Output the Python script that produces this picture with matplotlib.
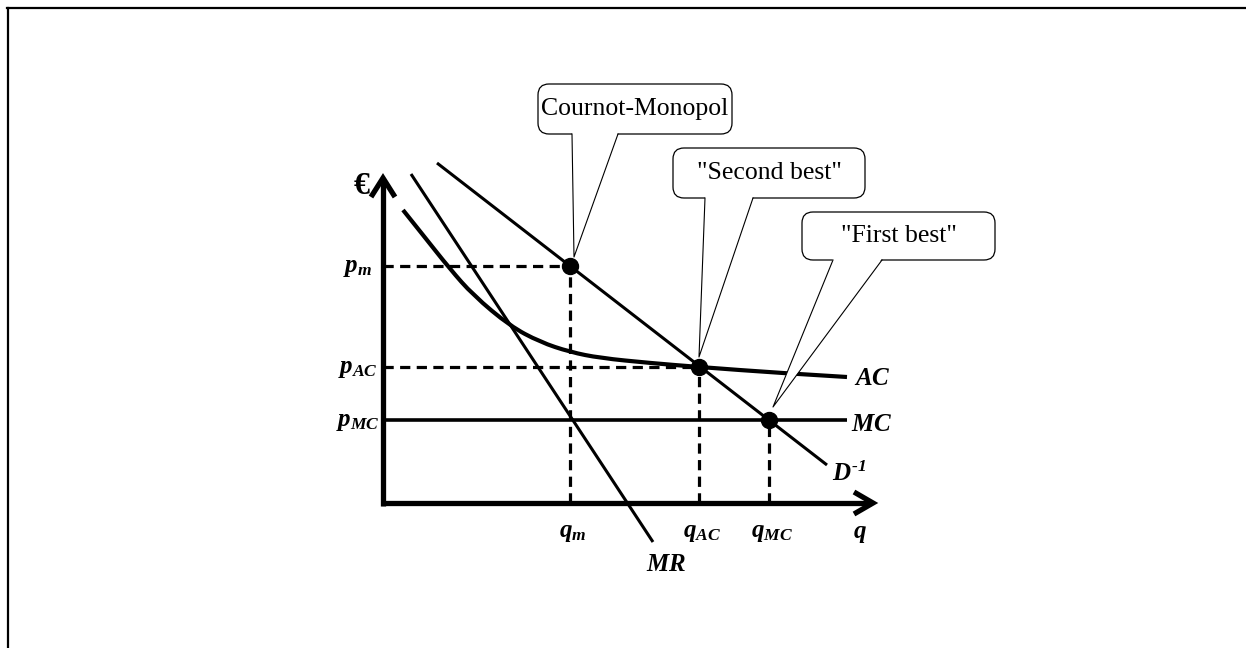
import matplotlib
matplotlib.use('Agg')
import matplotlib.pyplot as plt
from matplotlib.patches import FancyBboxPatch, Polygon, PathPatch
from matplotlib.path import Path
from matplotlib.lines import Line2D

plt.rcParams['mathtext.fontset'] = 'custom'
plt.rcParams['mathtext.rm'] = 'Liberation Serif:bold:italic'
plt.rcParams['mathtext.it'] = 'Liberation Serif:bold:italic'
plt.rcParams['mathtext.bf'] = 'Liberation Serif:bold:italic'

# Nachfrage (inverse Nachfragefunktion) und Grenzerlös, Endpunkte
demand_q = [1.08, 8.88]
demand_p = [6.80, 0.76]
mr_q = [0.56, 5.40]
mr_p = [6.58, -0.78]

ac_q = [0.40, 0.80, 1.34, 1.80, 2.54, 3.14, 3.74, 4.34, 5.34, 6.32, 7.94, 9.28]
ac_p = [5.86, 5.36, 4.68, 4.16, 3.54, 3.22, 3.02, 2.90, 2.80, 2.72, 2.60, 2.52]

# Grenzkosten
mc_level = 1.66
mc_end = 9.28

# Gleichgewichte: Cournot, Second best, First best
eq_q = [3.74, 6.32, 7.72]
eq_p = [4.74, 2.72, 1.66]
q_labels = [r'$q_m$', r'$q_{AC}$', r'$q_{MC}$']
p_labels = [r'$p_m$', r'$p_{AC}$', r'$p_{MC}$']

# Sprechblasen: Text, Box (x0, x1, y0, y1), Basis der Spitze, Spitze
callout_texts = ['Cournot-Monopol', '"Second best"', '"First best"']
callout_boxes = [(3.10, 6.98, 7.38, 8.38), (5.80, 9.64, 6.10, 7.10), (8.38, 12.24, 4.86, 5.82)]
callout_bases = [(3.78, 4.70), (6.44, 7.40), (9.00, 9.98)]
callout_tips = [(3.82, 4.92), (6.32, 2.92), (7.80, 1.92)]

q_max = 9.80
p_max = 6.50

fig = plt.figure(figsize=(12.46, 6.48), dpi=100)
ax = fig.add_axes([0, 0, 1, 1])
ax.set_xlim(-7.66, 17.26)
ax.set_ylim(-2.90, 10.06)
ax.axis('off')

# Rahmen oben und links
fig.add_artist(Line2D([7.5 / 1246, 7.5 / 1246], [0, 1 - 7.5 / 648], color='black', lw=1.6,
                      transform=fig.transFigure))
fig.add_artist(Line2D([7.0 / 1246, 1], [1 - 7.5 / 648, 1 - 7.5 / 648], color='black', lw=1.6,
                      transform=fig.transFigure))

# Achsen mit Pfeilen
ax.plot([0, 0], [-0.05, p_max - 0.05], color='black', lw=3.8, solid_capstyle='butt', zorder=3)
ax.plot([-0.05, q_max - 0.05], [0, 0], color='black', lw=3.8, solid_capstyle='butt', zorder=3)
ax.plot([-0.24, 0, 0.24], [p_max - 0.38, p_max, p_max - 0.38], color='black', lw=3.8,
        solid_joinstyle='miter', solid_capstyle='butt', zorder=3)
ax.plot([q_max - 0.38, q_max, q_max - 0.38], [0.22, 0, -0.22], color='black', lw=3.8,
        solid_joinstyle='miter', solid_capstyle='butt', zorder=3)

# Hilfslinien (gestrichelt)
dash = (0, (3.2, 2))
ax.plot([0, eq_q[0]], [eq_p[0], eq_p[0]], color='black', lw=2.3, ls=dash)
ax.plot([0, eq_q[1]], [eq_p[1], eq_p[1]], color='black', lw=2.3, ls=dash)
for q, p in zip(eq_q, eq_p):
    ax.plot([q, q], [0, p], color='black', lw=2.3, ls=dash)

# Kurven
ax.plot(demand_q, demand_p, color='black', lw=2.2, solid_capstyle='butt')
ax.plot(mr_q, mr_p, color='black', lw=2.2, solid_capstyle='butt')
ax.plot([0, mc_end], [mc_level, mc_level], color='black', lw=2.6, solid_capstyle='butt')

pts = list(zip(ac_q, ac_p))
verts = [pts[0]]
codes = [Path.MOVETO]
for i in range(1, len(pts) - 2):
    mid = ((pts[i][0] + pts[i + 1][0]) / 2, (pts[i][1] + pts[i + 1][1]) / 2)
    verts += [pts[i], mid]
    codes += [Path.CURVE3, Path.CURVE3]
verts += [pts[-2], pts[-1]]
codes += [Path.CURVE3, Path.CURVE3]
ax.add_patch(PathPatch(Path(verts, codes), facecolor='none', edgecolor='black', lw=3.0,
                       capstyle='butt'))

ax.plot(eq_q, eq_p, 'o', color='black', markersize=11.5, zorder=5)

# Beschriftungen
lab = dict(fontsize=18, color='black', ha='center', va='center')
ax.text(-0.42, 6.32, '€', fontsize=23, fontweight='bold', family='Liberation Serif',
        ha='center', va='center')
for q, txt in zip(eq_q, q_labels):
    ax.text(q + 0.06, -0.58, txt, **lab)
for p, txt in zip(eq_p, p_labels):
    ax.text(-0.50, p - 0.02, txt, **lab)
ax.text(9.54, -0.60, r'$q$', **lab)
ax.text(5.66, -1.22, r'$MR$', **lab)
ax.text(9.32, 0.58, r'$D^{\text{-}1}$', **lab)
ax.text(9.78, 2.50, r'$AC$', **lab)
ax.text(9.78, 1.58, r'$MC$', **lab)

# Sprechblasen
for txt, (x0, x1, y0, y1), (b0, b1), tip in zip(callout_texts, callout_boxes, callout_bases,
                                                 callout_tips):
    ax.add_patch(FancyBboxPatch((x0, y0), x1 - x0, y1 - y0,
                                boxstyle='round,pad=0,rounding_size=0.22',
                                facecolor='white', edgecolor='black', lw=0.9, zorder=6))
    ax.add_patch(Polygon([(b0, y0 + 0.03), tip, (b1, y0 + 0.03)], closed=True,
                         facecolor='white', edgecolor='none', zorder=7))
    ax.plot([b0, tip[0], b1], [y0, tip[1], y0], color='black', lw=0.8, zorder=8)
    ax.text((x0 + x1) / 2, (y0 + y1) / 2, txt, fontsize=18.5, family='Liberation Serif',
            ha='center', va='center', zorder=9)

fig.savefig('out.png', dpi=100)
